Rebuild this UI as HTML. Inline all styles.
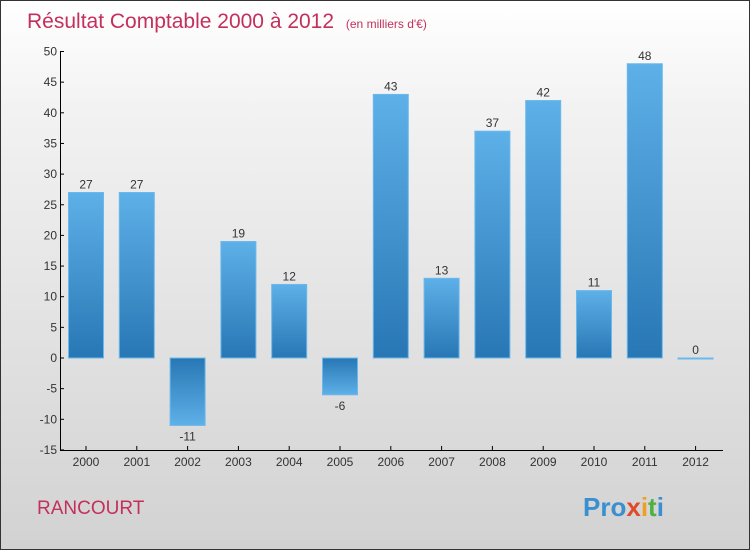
<!DOCTYPE html>
<html><head><meta charset="utf-8"><style>
body{margin:0;width:750px;height:550px;overflow:hidden;font-family:"Liberation Sans","DejaVu Sans",sans-serif}
#wrap{position:absolute;left:0;top:0;width:748px;height:548px;border:1px solid #333;background:linear-gradient(#ffffff,#f2f2f2 20%,#d2d2d2)}
</style></head><body>
<div id="wrap">
<svg width="748" height="548">
<defs>
<linearGradient id="gp" x1="0" y1="0" x2="0" y2="1"><stop offset="0" stop-color="#5eb0e8"/><stop offset="1" stop-color="#2877b5"/></linearGradient>
<linearGradient id="gn" x1="0" y1="0" x2="0" y2="1"><stop offset="0" stop-color="#2877b5"/><stop offset="1" stop-color="#5eb0e8"/></linearGradient>
</defs>
<text x="26" y="27" font-size="21" fill="#c3305c">Résultat Comptable 2000 à 2012 <tspan font-size="12" dx="6">(en milliers d'€)</tspan></text>
<g id="yaxis"></g>
<g id="bars"></g>
<g id="xaxis"></g>
<text x="36" y="513" font-size="19" fill="#c3305c">RANCOURT</text>
<text x="582" y="515" font-size="26" font-weight="bold"><tspan fill="#3a8fd0">Pro</tspan><tspan fill="#e04a2a">x</tspan><tspan fill="#f0a020">i</tspan><tspan fill="#50b040">t</tspan><tspan fill="#3a8fd0">i</tspan></text>
</svg></div>
<script>
const categories=["2000","2001","2002","2003","2004","2005","2006","2007","2008","2009","2010","2011","2012"];
const values=[27,27,-11,19,12,-6,43,13,37,42,11,48,0];
const yTicks=[50,45,40,35,30,25,20,15,10,5,0,-5,-10,-15];
const NS="http://www.w3.org/2000/svg";
function y(v){return 357-(v*6.13);}
function x(i){return 85+i*50.8;}
function mk(t,a,p){const e=document.createElementNS(NS,t);for(const k in a)e.setAttribute(k,a[k]);p.appendChild(e);return e;}
const ya=document.getElementById('yaxis'),xa=document.getElementById('xaxis'),bg=document.getElementById('bars');
mk('line',{x1:59.5,y1:y(50),x2:59.5,y2:y(-15),stroke:'#000'},ya);
yTicks.forEach(t=>{mk('line',{x1:59,y1:y(t),x2:63,y2:y(t),stroke:'#000'},ya);
const tx=mk('text',{x:56,y:y(t)+4,'text-anchor':'end','font-size':12,fill:'#333'},ya);


tx.textContent=t;});
mk('line',{x1:59,y1:y(-15)+.5,x2:722,y2:y(-15)+.5,stroke:'#000'},xa);
categories.forEach((c,i)=>{mk('line',{x1:x(i),y1:y(-15),x2:x(i),y2:y(-15)-4,stroke:'#000'},xa);
const tx=mk('text',{x:x(i),y:y(-15)+16,'text-anchor':'middle','font-size':12,fill:'#333'},xa);


tx.textContent=c;
const v=values[i];const top=Math.min(y(v),y(0)),h=Math.max(Math.abs(y(v)-y(0)),1);
const r=mk('rect',{x:x(i)-17.5,y:top,width:35,height:h,fill:v>=0?'url(#gp)':'url(#gn)',stroke:'#6bb8ec','stroke-width':1},bg);


const lb=mk('text',{x:x(i),y:v>=0?y(v)-4:y(v)+15,'text-anchor':'middle','font-size':12,fill:'#333'},bg);


lb.textContent=v;});
</script>
</body></html>
